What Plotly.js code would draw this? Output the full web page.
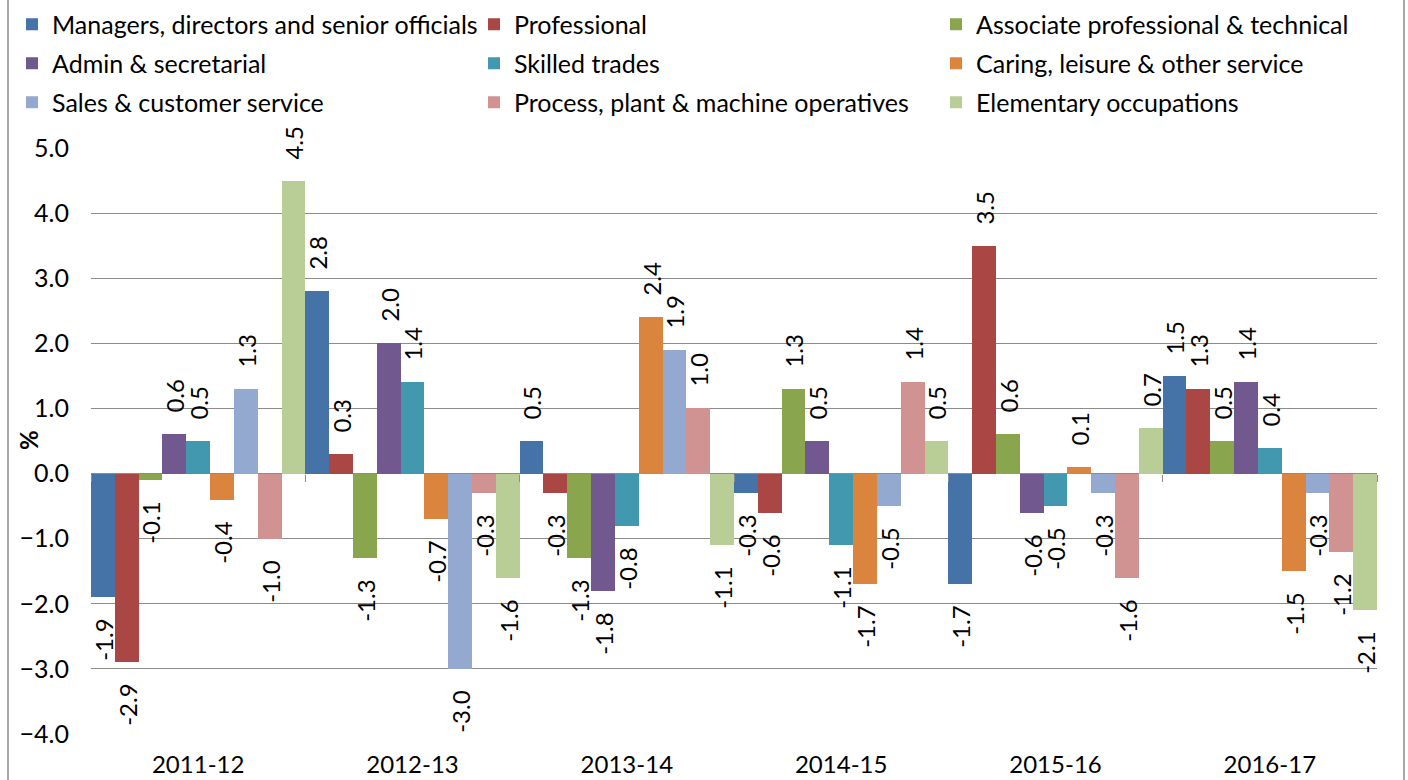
<!DOCTYPE html>
<html><head><meta charset="utf-8">
<script src="https://cdn.plot.ly/plotly-3.0.1.min.js"></script>
<style>html,body{margin:0;padding:0;background:#fff;}</style>
</head><body>
<div id="chart" style="width:1408px;height:780px;"></div>
<script>
const categories = ['2011-12', '2012-13', '2013-14', '2014-15', '2015-16', '2016-17'];
const seriesNames = [
  'Managers, directors and senior officials', 'Professional', 'Associate professional & technical',
  'Admin & secretarial', 'Skilled trades', 'Caring, leisure & other service',
  'Sales & customer service', 'Process, plant & machine operatives', 'Elementary occupations'
];
const managers     = [-1.9,  2.8,  0.5, -0.3, -1.7,  1.5];
const professional = [-2.9,  0.3, -0.3, -0.6,  3.5,  1.3];
const associate    = [-0.1, -1.3, -1.3,  1.3,  0.6,  0.5];
const admin        = [ 0.6,  2.0, -1.8,  0.5, -0.6,  1.4];
const skilled      = [ 0.5,  1.4, -0.8, -1.1, -0.5,  0.4];
const caring       = [-0.4, -0.7,  2.4, -1.7,  0.1, -1.5];
const sales        = [ 1.3, -3.0,  1.9, -0.5, -0.3, -0.3];
const processOps   = [-1.0, -0.3,  1.0,  1.4, -1.6, -1.2];
const elementary   = [ 4.5, -1.6, -1.1,  0.5,  0.7, -2.1];
const seriesValues = [managers, professional, associate, admin, skilled, caring, sales, processOps, elementary];
const yTickVals = [-4, -3, -2, -1, 0, 1, 2, 3, 4, 5];
const yAxisLabel = '%';

const colors = ['#4572A7', '#AA4643', '#89A54E', '#71588F', '#4198AF', '#DB843D', '#93A9CF', '#D19392', '#B9CD96'];
const legendIds = ['legend', 'legend2', 'legend3'];
const FONT = 'Lato, "Open Sans", sans-serif';
const FS = 25;
const W = 1408, H = 780;
const M = {l: 91, r: 31, t: 148, b: 46};
const plotW = W - M.l - M.r, plotH = H - M.t - M.b;
const NB = '\u00a0\u00a0\u00a0';

function labelText(v) {
  const s = v.toFixed(1);
  return v >= 0 ? NB + s : s + NB;
}

const traces = seriesValues.map((vals, i) => ({
  type: 'bar',
  name: seriesNames[i],
  x: categories,
  y: vals,
  text: vals.map(labelText),
  textposition: 'outside',
  textangle: -90,
  constraintext: 'none',
  cliponaxis: false,
  textfont: {family: FONT, size: 24, color: '#000'},
  marker: {color: colors[i], line: {width: 0}},
  legend: legendIds[i % 3],
  legendgroup: 'g' + i,
  hoverinfo: 'x+y+name'
}));

traces.push({
  type: 'scatter', mode: 'markers', x: categories, y: categories.map(() => null),
  xaxis: 'x2', yaxis: 'y', showlegend: false, hoverinfo: 'skip'
});

const legendBase = {
  xref: 'container', yref: 'container', xanchor: 'left', yanchor: 'top',
  orientation: 'v', font: {family: FONT, size: FS, color: '#000'},
  bgcolor: 'rgba(0,0,0,0)', borderwidth: 0, tracegroupgap: 3.5, itemclick: false
};
const legendTopPx = 1.5;
const legendX = [12, 474, 936];

const layout = {
  width: W, height: H,
  margin: Object.assign({autoexpand: false, pad: 0}, M),
  paper_bgcolor: '#fff', plot_bgcolor: '#fff',
  barmode: 'group', bargap: 0, bargroupgap: 0,
  font: {family: FONT, size: FS, color: '#000'},
  showlegend: true,
  legend: Object.assign({}, legendBase, {x: legendX[0] / W, y: 1 - legendTopPx / H}),
  legend2: Object.assign({}, legendBase, {x: legendX[1] / W, y: 1 - legendTopPx / H}),
  legend3: Object.assign({}, legendBase, {x: legendX[2] / W, y: 1 - legendTopPx / H}),
  xaxis: {
    type: 'category', range: [-0.5, 5.5], ticks: '', showline: false, showgrid: false,
    zeroline: false, tickfont: {family: FONT, size: 24, color: '#000'}, ticklabelstandoff: 14,
    fixedrange: true
  },
  xaxis2: {
    type: 'category', overlaying: 'x', anchor: 'free', position: 4 / 9, range: [-0.5, 5.5],
    tickson: 'boundaries', ticks: 'outside', ticklen: 7, tickwidth: 1.3, tickcolor: '#8c8c8c',
    showticklabels: false, showgrid: false, showline: false, zeroline: false, fixedrange: true
  },
  yaxis: {
    range: [-4, 5], tickvals: yTickVals, tickformat: '.1f', ticks: '',
    showgrid: true, gridcolor: '#8c8c8c', gridwidth: 1.3,
    zeroline: true, zerolinecolor: '#8c8c8c', zerolinewidth: 1.3,
    showline: false, tickfont: {family: FONT, size: FS, color: '#000'}, ticklabelstandoff: 21,
    fixedrange: true
  },
  annotations: [{
    text: '<b>' + yAxisLabel + '</b>', xref: 'paper', yref: 'paper',
    x: (28 - M.l) / plotW, y: (H - M.b - 440) / plotH, xanchor: 'center', yanchor: 'middle',
    textangle: -90, showarrow: false, font: {family: FONT, size: 24, color: '#000'}
  }],
  shapes: [{
    type: 'rect', xref: 'paper', yref: 'paper', layer: 'below',
    x0: (8 - M.l) / plotW, x1: (1404 - M.l) / plotW,
    y0: -(M.b + 10) / plotH, y1: 1 + (M.t + 10) / plotH,
    line: {color: '#8c8c8c', width: 1.5}, fillcolor: 'rgba(0,0,0,0)'
  }]
};

Plotly.newPlot('chart', traces, layout, {displayModeBar: false, staticPlot: false});
</script>
</body></html>
